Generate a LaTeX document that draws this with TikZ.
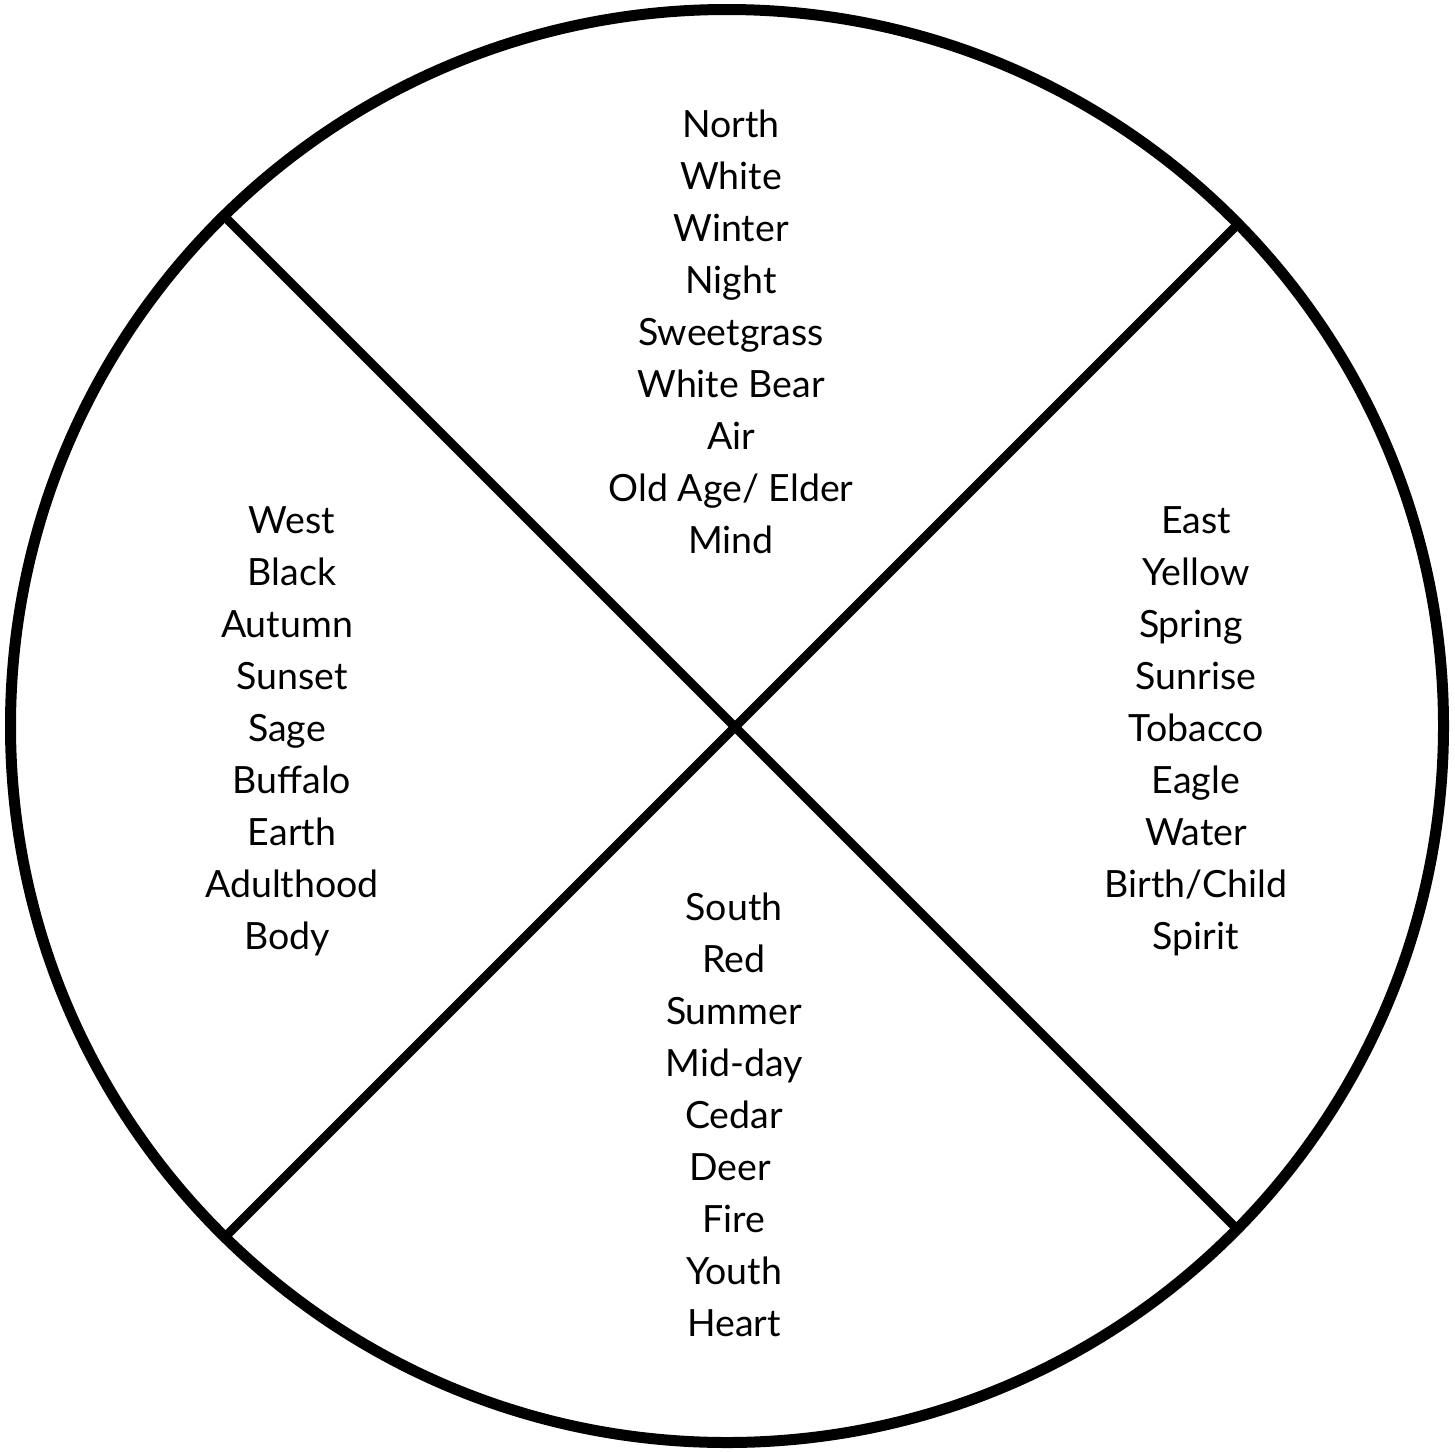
\documentclass[tikz,border=0pt]{standalone}
\usepackage{fontspec}
\setmainfont{Lato}
\begin{document}
\begin{tikzpicture}[x=1pt,y=-1pt,
  lbl/.style={anchor=base,inner sep=0pt,font=\fontsize{37.5}{44}\selectfont},
  divider/.style={line width=9pt}]
\useasboundingbox (0,0) rectangle (1455,1451);
\node[circle,draw,line width=11pt,minimum size=1433pt,inner sep=0pt] (C) at (727,726) {};
\coordinate (NW) at (226,218);
\coordinate (SE) at (1240,1232);
\coordinate (NE) at (1240,222);
\coordinate (SW) at (226,1236);
\draw[divider] (NW) -- (SE);
\draw[divider] (NE) -- (SW);
\foreach \t [count=\i] in {North,White,Winter,Night,Sweetgrass,White Bear,Air,{Old Age/ Elder},Mind}
  \node[lbl] (N\i) at (731,{137+52*(\i-1)}) {\t};
\foreach \t/\x [count=\i] in {West/292,Black/292,Autumn/287,Sunset/292,Sage/287,Buffalo/292,Earth/292,Adulthood/292,Body/287}
  \node[lbl] (W\i) at (\x,{533+52*(\i-1)}) {\t};
\foreach \t/\x [count=\i] in {East/1196,Yellow/1196,Spring/1191,Sunrise/1196,Tobacco/1196,Eagle/1196,Water/1196,{Birth/Child}/1196,Spirit/1196}
  \node[lbl] (E\i) at (\x,{533+52*(\i-1)}) {\t};
\foreach \t/\x [count=\i] in {South/734,Red/734,Summer/734,Mid-day/734,Cedar/734,Deer/730,Fire/734,Youth/734,Heart/734}
  \node[lbl] (S\i) at (\x,{920+52*(\i-1)}) {\t};
\end{tikzpicture}
\end{document}
